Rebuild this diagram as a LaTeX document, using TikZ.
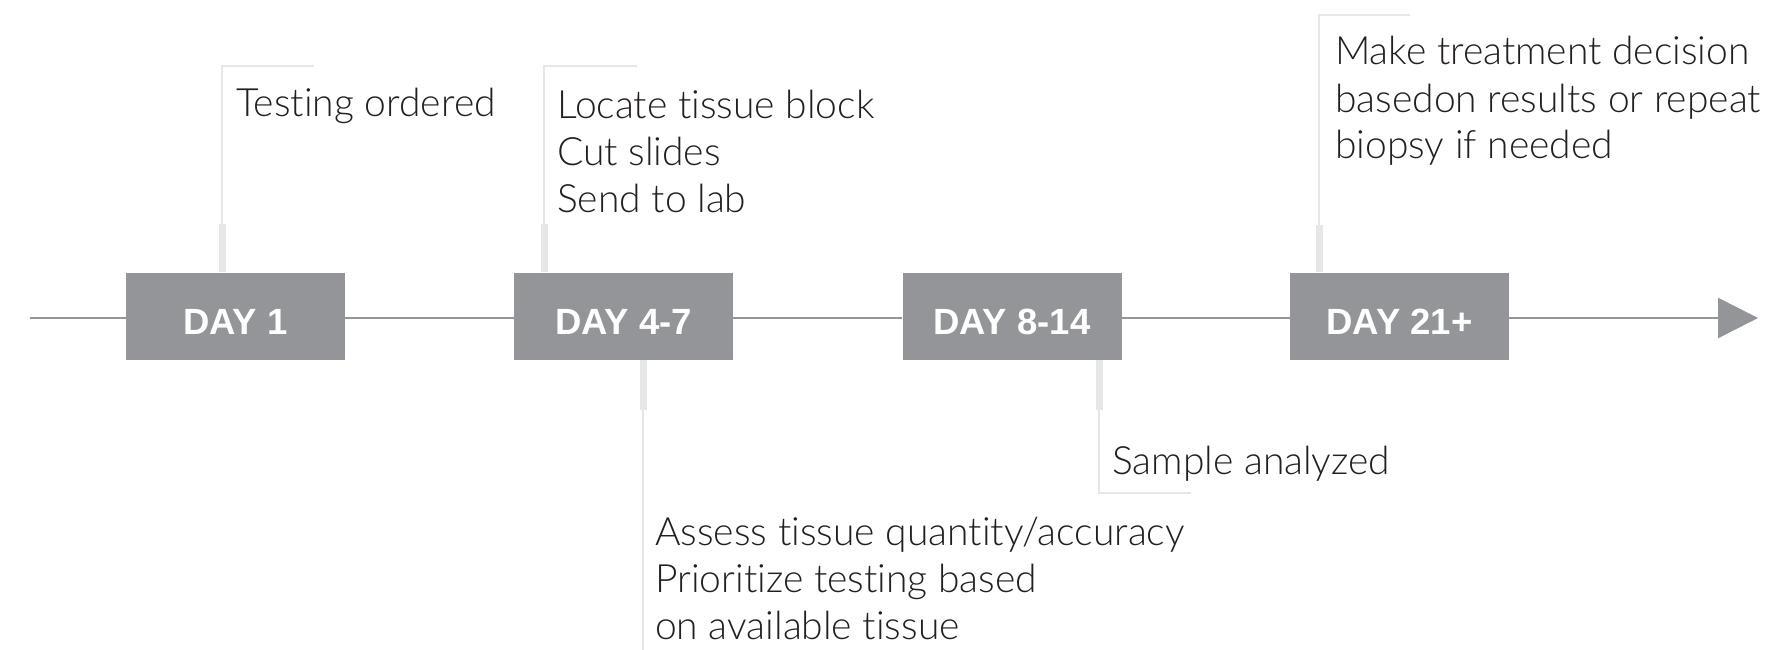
\documentclass[tikz,border=0pt]{standalone}
\usepackage{fontspec}
\setmainfont{Liberation Sans}
\newfontfamily\lightfont{Lato Light}[Ligatures={NoCommon}]
\usetikzlibrary{arrows.meta,calc}
\definecolor{boxgray}{HTML}{939598}
\definecolor{leadergray}{HTML}{E6E7E8}
\definecolor{textgray}{HTML}{231F20}
\tikzset{
  daybox/.style={fill=boxgray, text=white, minimum width=219pt, minimum height=87pt,
    inner sep=0pt, text height=36.4pt, text depth=0pt,
    font=\bfseries\fontsize{36.5}{40}\selectfont},
  timeline/.style={draw=boxgray, line width=2.6pt},
  leaderthin/.style={draw=leadergray, line width=2pt},
  leaderthick/.style={draw=leadergray, line width=7pt},
  note/.style={inner sep=0pt, align=left, text=textgray,
    font=\lightfont\fontsize{39}{47}\selectfont},
}
\begin{document}
\begin{tikzpicture}[x=1pt,y=-1pt]
\useasboundingbox (0,0) rectangle (1792,650);
% boxes
\node[daybox] (d1) at (235.5,316) {DAY 1};
\node[daybox] (d2) at (623.5,316) {DAY 4-7};
\node[daybox] (d3) at (1012,316) {DAY 8-14};
\node[daybox] (d4) at (1399.5,316) {DAY 21+};
% timeline
\coordinate (tstart) at (30,318);
\coordinate (tend) at (1758,318);
\draw[timeline] (tstart) -- (d1.west |- tstart);
\draw[timeline] (d1.east |- tstart) -- (d2.west |- tstart);
\draw[timeline] (d2.east |- tstart) -- (d3.west |- tstart);
\draw[timeline] (d3.east |- tstart) -- (d4.west |- tstart);
\draw[timeline, -{Triangle[length=40pt,width=40pt]}] (d4.east |- tstart) -- (tend);
% callout 1
\coordinate (c1) at (222,66);
\coordinate (c1e) at (314,66);
\draw[leaderthin] (d1.north -| c1) -- (c1) -- (c1e);
\draw[leaderthick] (d1.north -| c1) -- ++(0,-48);
\node[note, anchor=base west] (n1) at (236,117) {Testing ordered};
% callout 2
\coordinate (c2) at (544,66);
\coordinate (c2e) at (637,66);
\draw[leaderthin] (d2.north -| c2) -- (c2) -- (c2e);
\draw[leaderthick] (d2.north -| c2) -- ++(0,-48);
\node[note, anchor=base west] (n2) at (557,212) {Locate tissue block\\Cut slides\\Send to lab};
% callout 3 (below DAY 4-7)
\coordinate (c3) at (643,650);
\draw[leaderthin] (d2.south -| c3) -- (c3);
\draw[leaderthick] (d2.south -| c3) -- ++(0,50);
\node[note, anchor=base west] (n3) at (655,639) {Assess tissue quantity/accuracy\\Prioritize testing based\\on available tissue};
% callout 4 (below DAY 8-14)
\coordinate (c4) at (1099,493);
\coordinate (c4e) at (1191,493);
\draw[leaderthin] (d3.south -| c4) -- (c4) -- (c4e);
\draw[leaderthick] (d3.south -| c4) -- ++(0,50);
\node[note, anchor=base west] (n4) at (1112,474) {Sample analyzed};
% callout 5
\coordinate (c5) at (1319,15);
\coordinate (c5e) at (1410,15);
\draw[leaderthin] (d4.north -| c5) -- (c5) -- (c5e);
\draw[leaderthick] (d4.north -| c5) -- ++(0,-47);
\node[note, anchor=base west] (n5) at (1335,159) {Make treatment decision\\basedon results or repeat\\biopsy if needed};
\end{tikzpicture}
\end{document}
